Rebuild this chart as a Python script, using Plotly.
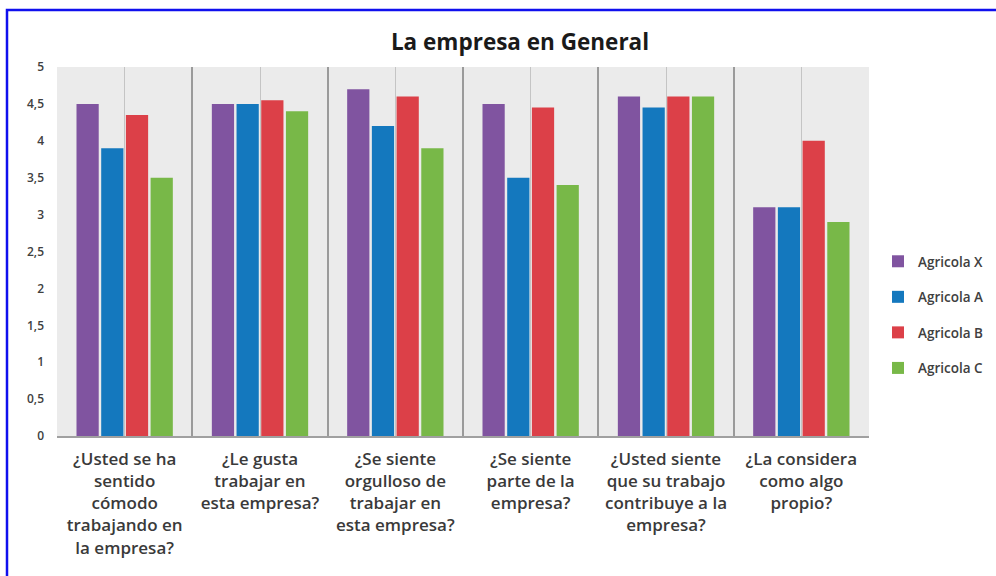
import plotly.graph_objects as go

categories = [
    "¿Usted se ha<br>sentido<br>cómodo<br>trabajando en<br>la empresa?",
    "¿Le gusta<br>trabajar en<br>esta empresa?",
    "¿Se siente<br>orgulloso de<br>trabajar en<br>esta empresa?",
    "¿Se siente<br>parte de la<br>empresa?",
    "¿Usted siente<br>que su trabajo<br>contribuye a la<br>empresa?",
    "¿La considera<br>como algo<br>propio?",
]
agricola_x = [4.5, 4.5, 4.7, 4.5, 4.6, 3.1]
agricola_a = [3.9, 4.5, 4.2, 3.5, 4.45, 3.1]
agricola_b = [4.35, 4.55, 4.6, 4.45, 4.6, 4.0]
agricola_c = [3.5, 4.4, 3.9, 3.4, 4.6, 2.9]
series_names = ["Agricola X", "Agricola A", "Agricola B", "Agricola C"]
series_colors = ["#8054a0", "#1478be", "#dc4048", "#78b848"]
y_ticks = [0, 0.5, 1, 1.5, 2, 2.5, 3, 3.5, 4, 4.5, 5]

W, H = 996, 576
L, R, T, B = 57, 127, 67, 140
pw, ph = W - L - R, H - T - B

def px_x(p):
    return (p - L) / pw

def px_y(p):
    return (H - B - p) / ph

positions = list(range(len(categories)))

fig = go.Figure()
for name, vals, col in zip(series_names, [agricola_x, agricola_a, agricola_b, agricola_c], series_colors):
    fig.add_trace(go.Bar(
        x=positions, y=vals, name=name, legendgroup=name,
        marker=dict(color=col, line=dict(width=0)),
    ))

fig.update_layout(
    width=W, height=H,
    margin=dict(l=L, r=R, t=T, b=B, autoexpand=False),
    paper_bgcolor="#ffffff",
    plot_bgcolor="#ebebeb",
    separators=",.",
    barmode="group",
    bargap=0.27,
    bargroupgap=0.1,
    font=dict(family="Open Sans, sans-serif", color="#404040"),
    title=dict(
        text="<b>La empresa en General</b>",
        x=520 / W, xref="container", xanchor="center",
        y=1 - 42 / H, yref="container", yanchor="middle",
        font=dict(size=22.5, color="#1a1a1a", family="Open Sans, sans-serif"),
    ),
    legend=dict(
        x=px_x(878), xanchor="left",
        y=px_y(315), yanchor="middle",
        font=dict(size=13.5, color="#404040", weight=600),
        tracegroupgap=15,
        bgcolor="rgba(0,0,0,0)",
    ),
    showlegend=True,
    xaxis=dict(
        range=[-0.5, len(categories) - 0.5],
        tickmode="array", tickvals=positions, ticktext=categories,
        tickfont=dict(size=17, color="#3a3a3a", weight=600),
        ticks="", ticklabelstandoff=7,
        showgrid=True, gridcolor="#c4c4c4", gridwidth=1,
        minor=dict(
            tickmode="array",
            tickvals=[p - 0.5 for p in positions] + [positions[-1] + 0.5],
            showgrid=True, gridcolor="#9a9a9a", gridwidth=1.5,
        ),
        showline=True, linecolor="#a0a0a0", linewidth=1.5,
        zeroline=False, fixedrange=True,
    ),
    yaxis=dict(
        range=[0, 5], tickmode="array", tickvals=y_ticks,
        tickfont=dict(size=12, color="#404040", weight=600),
        showgrid=False, zeroline=False, showline=False,
        ticks="", ticklabelstandoff=12, fixedrange=True,
    ),
)

# thin blue frame along the top and left edges
fig.add_shape(
    type="rect", xref="paper", yref="paper",
    x0=px_x(7), x1=px_x(1010), y0=px_y(10), y1=px_y(590),
    line=dict(color="#1010ee", width=2.5), fillcolor="rgba(0,0,0,0)",
    layer="above",
)

fig.write_html("out.html")
